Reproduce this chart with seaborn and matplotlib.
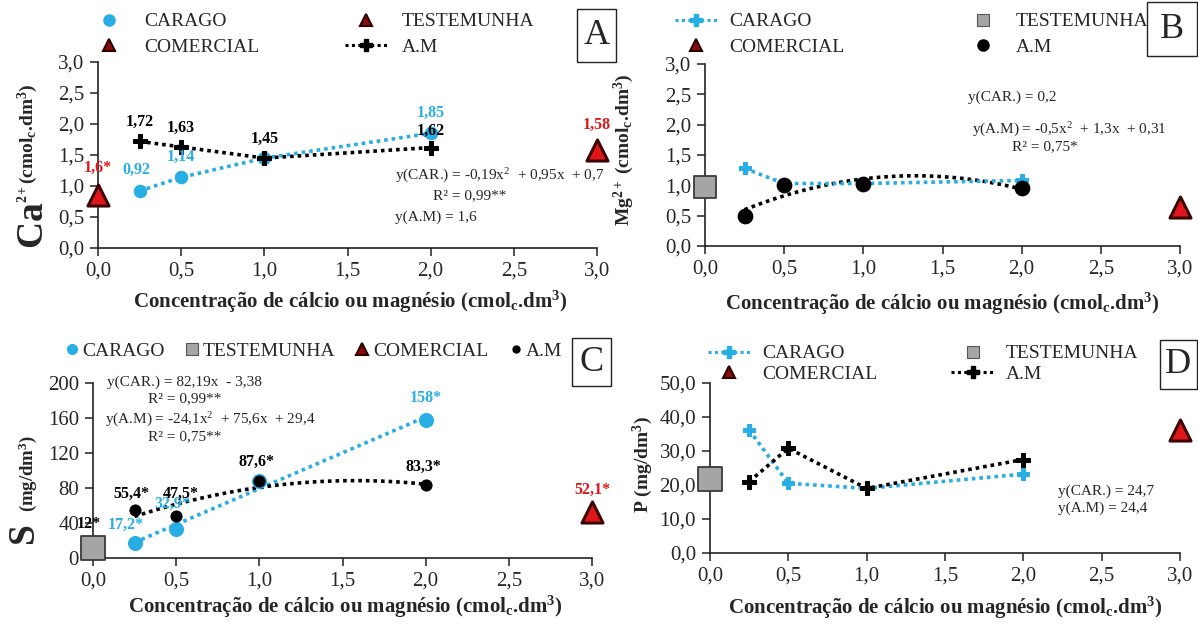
import numpy as np
import pandas as pd
import matplotlib
matplotlib.use("Agg")
import matplotlib.pyplot as plt
import seaborn as sns
from matplotlib.lines import Line2D

# ---------------- data ----------------
doses = [0.25, 0.5, 1.0, 2.0]
x_test = [0.0]
x_com = [3.0]

ca_carago = [0.92, 1.14, 1.45, 1.85]
ca_am = [1.72, 1.63, 1.45, 1.62]
ca_test = [0.85]
ca_com = [1.58]
ca_car_labels = ["0,92", "1,14", "", "1,85"]
ca_am_labels = ["1,72", "1,63", "1,45", "1,62"]
ca_test_label = "1,6*"
ca_com_label = "1,58"

mg_carago = [1.28, 1.03, 1.03, 1.08]
mg_am = [0.50, 1.00, 1.02, 0.95]
mg_test = [0.97]
mg_com = [0.65]

s_carago = [17.2, 32.9, 88.5, 158.0]
s_am = [55.4, 47.5, 87.6, 83.3]
s_test = [12.0]
s_com = [52.1]
s_car_labels = ["17,2*", "32,9*", "", "158*"]
s_am_labels = ["55,4*", "47,5*", "87,6*", "83,3*"]
s_test_label = "12*"
s_com_label = "52,1*"

p_carago = [36.2, 20.5, 19.0, 23.2]
p_am = [21.0, 30.8, 19.0, 27.5]
p_test = [21.8]
p_com = [36.3]

# ---------------- style ----------------
sns.set_style("white")
plt.rcParams["font.family"] = ["Liberation Serif", "DejaVu Serif"]
plt.rcParams["mathtext.fontset"] = "custom"
plt.rcParams["mathtext.rm"] = "Liberation Serif"
plt.rcParams["mathtext.it"] = "Liberation Serif:italic"
plt.rcParams["mathtext.bf"] = "Liberation Serif:bold"

CYAN = "#27aee4"
RED = "#e0161b"
DRED = "#3c0505"
GREY = "#a5a5a5"
DOT = (0, (1, 1.1))

W, H = 1198, 625
fig = plt.figure(figsize=(W / 100, H / 100), dpi=100)


def px(x, y):
    return x / W, 1 - y / H


def make_ax(l, t, r, b):
    x0, y0 = px(l, b)
    x1, y1 = px(r, t)
    return fig.add_axes([x0, y0, x1 - x0, y1 - y0])


def style_ax(ax, ymax, ystep, fmt):
    ax.set_xlim(0, 3)
    ax.set_ylim(0, ymax)
    ax.set_xticks(np.arange(0, 3.01, 0.5))
    ax.set_xticklabels([f"{v:.1f}".replace(".", ",") for v in np.arange(0, 3.01, 0.5)])
    yt = np.arange(0, ymax + 1e-9, ystep)
    ax.set_yticks(yt)
    ax.set_yticklabels([fmt(v) for v in yt])
    for s in ["top", "right"]:
        ax.spines[s].set_visible(False)
    for s in ["left", "bottom"]:
        ax.spines[s].set_color("#222222")
        ax.spines[s].set_linewidth(1.2)
    ax.tick_params(axis="both", direction="out", length=6, width=1.1,
                   color="#222222", labelsize=15, pad=4, left=True, bottom=True)
    ax.set_xlabel("")
    ax.set_ylabel("")
    ax.patch.set_alpha(0)


def tri(ax, x, y, s=230):
    sns.scatterplot(x=x, y=y, ax=ax, marker="^", s=s, color=RED,
                    edgecolor=DRED, linewidth=2.2, zorder=6, clip_on=False, legend=False)


def square(ax, x, y, s=260):
    sns.scatterplot(x=x, y=y, ax=ax, marker="s", s=s, color=GREY,
                    edgecolor="#3a3a3a", linewidth=1.3, zorder=6, clip_on=False, legend=False)


def connect(ax, x, y, color, marker, ms):
    sns.lineplot(x=x, y=y, ax=ax, color=color, linestyle=DOT, linewidth=2.6,
                 marker=marker, markersize=ms, markeredgecolor=color,
                 zorder=5, clip_on=False, legend=False, errorbar=None)


def label(ax, x, y, txt, color, dx=0, dy=15, size=11.5):
    if txt:
        ax.annotate(txt, (x, y), xytext=(dx, dy), textcoords="offset points",
                    ha="center", va="center", fontsize=size, fontweight="bold",
                    color=color, zorder=7)


def letter_box(l, t, r, b, txt):
    x0, y0 = px(l, b)
    x1, y1 = px(r, t)
    fig.patches.append(plt.Rectangle((x0, y0), x1 - x0, y1 - y0, transform=fig.transFigure,
                                     fill=False, edgecolor="#222222", linewidth=1.0))
    cx, cy = px((l + r) / 2, (t + b) / 2)
    fig.text(cx, cy, txt, ha="center", va="center", fontsize=26)


fmt1 = lambda v: f"{v:.1f}".replace(".", ",")
fmt0 = lambda v: f"{v:.0f}"
XLAB = r"Concentração de cálcio ou magnésio (cmol$_\mathbf{c}$.dm$^\mathbf{3}$)"
XFS = 15

tri_h = Line2D([], [], ls="none", marker="^", markersize=9, color="#8b0a0a",
               markeredgecolor="#2a0000", markeredgewidth=1.5)
sq_h = Line2D([], [], ls="none", marker="s", markersize=8, color=GREY,
              markeredgecolor="#555555", markeredgewidth=0.8)

# ---------------- Panel A ----------------
axA = make_ax(98, 62, 597, 248)
connect(axA, doses, ca_carago, CYAN, "o", 9)
connect(axA, doses, ca_am, "black", "P", 10)
tri(axA, x_test, ca_test)
tri(axA, x_com, ca_com)
style_ax(axA, 3.0, 0.5, fmt1)
for xv, yv, t in zip(doses, ca_carago, ca_car_labels):
    label(axA, xv, yv, t, CYAN, dx=-2 if xv < 0.3 else 0, dy=15)
for xv, yv, t in zip(doses, ca_am, ca_am_labels):
    label(axA, xv, yv, t, "black", dy=14 if xv < 1.5 else 12)
label(axA, x_test[0], ca_test[0], ca_test_label, RED, dy=20)
label(axA, x_com[0], ca_com[0], ca_com_label, RED, dy=18)
fig.text(*px(395, 176), r"y(CAR.) = -0,19x$^2$  + 0,95x  + 0,7", fontsize=11, va="center")
fig.text(*px(470, 196), r"R² = 0,99**", fontsize=11, va="center", ha="center")
fig.text(*px(395, 217), r"y(A.M) = 1,6", fontsize=11, va="center")
fig.text(*px(34, 249), r"$\mathbf{Ca}$", fontsize=27, rotation=90, ha="center", va="bottom")
fig.text(*px(28, 203), r"$^\mathbf{2+}$(cmol$_\mathbf{c}$.dm$^\mathbf{3}$)", fontsize=14,
         fontweight="bold", rotation=90, ha="center", va="bottom")
fig.text(*px(350, 302), XLAB, fontsize=XFS, fontweight="bold", ha="center", va="center")
hA = [Line2D([], [], ls="none", marker="o", markersize=8, color=CYAN),
      tri_h,
      tri_h,
      Line2D([], [], ls=DOT, lw=2.2, marker="P", markersize=9, color="black")]
fig.legend(hA, ["CARAGO", "COMERCIAL", "TESTEMUNHA", "A.M"], ncol=2,
           loc="upper left", bbox_to_anchor=px(80, 5), frameon=False, fontsize=14,
           handlelength=2.2, handletextpad=0.7, columnspacing=4.4, labelspacing=0.4,
           borderaxespad=0)
letter_box(577, 9, 616, 62, "A")

# ---------------- Panel B ----------------
axB = make_ax(705, 64, 1180, 246)
connect(axB, doses, mg_carago, CYAN, "P", 9)
sns.regplot(x=np.array(doses), y=np.array(mg_am), order=2, ci=None, scatter=False, ax=axB,
            color="black", line_kws=dict(ls=DOT, lw=2.6, zorder=4))
sns.scatterplot(x=doses, y=mg_am, ax=axB, color="black", s=110, edgecolor="black",
                zorder=6, legend=False, clip_on=False)
square(axB, x_test, mg_test)
tri(axB, x_com, mg_com)
style_ax(axB, 3.0, 0.5, fmt1)
fig.text(*px(968, 97), r"y(CAR.) = 0,2", fontsize=11, va="center")
fig.text(*px(972, 130), r"y(A.M) = -0,5x$^2$  + 1,3x  + 0,31", fontsize=11, va="center")
fig.text(*px(1045, 147), r"R² = 0,75*", fontsize=11, va="center", ha="center")
fig.text(*px(624, 150), r"Mg$^\mathbf{2+}$ (cmol$_\mathbf{c}$.dm$^\mathbf{3}$)", fontsize=14,
         fontweight="bold", rotation=90, ha="center", va="center")
fig.text(*px(942, 304), XLAB, fontsize=XFS, fontweight="bold", ha="center", va="center")
hB = [Line2D([], [], ls=DOT, lw=2.2, marker="P", markersize=8, color=CYAN),
      tri_h,
      sq_h,
      Line2D([], [], ls="none", marker="o", markersize=8, color="black")]
fig.legend(hB, ["CARAGO", "COMERCIAL", "TESTEMUNHA", "A.M"], ncol=2,
           loc="upper left", bbox_to_anchor=px(667, 5), frameon=False, fontsize=14,
           handlelength=2.2, handletextpad=0.6, columnspacing=6.0, labelspacing=0.4,
           borderaxespad=0)
letter_box(1147, 2, 1197, 56, "B")

# ---------------- Panel C ----------------
axC = make_ax(93, 383, 592, 558)
sns.regplot(x=np.array(doses), y=np.array(s_carago), order=1, ci=None, scatter=False, ax=axC,
            color=CYAN, line_kws=dict(ls=DOT, lw=2.6, zorder=4))
sns.regplot(x=np.array(doses), y=np.array(s_am), order=2, ci=None, scatter=False, ax=axC,
            color="black", line_kws=dict(ls=DOT, lw=2.6, zorder=4))
sns.scatterplot(x=doses, y=s_carago, ax=axC, color=CYAN, s=100, edgecolor=CYAN,
                zorder=5, legend=False, clip_on=False)
sns.scatterplot(x=doses, y=s_am, ax=axC, color="black", s=65, edgecolor="black",
                zorder=6, legend=False, clip_on=False)
square(axC, x_test, s_test, s=280)
tri(axC, x_com, s_com)
style_ax(axC, 200, 40, fmt0)
car_dx = [-6, -3, 0, 0]
car_dy = [13, 18, 14, 16]
for xv, yv, t, dx, dy in zip(doses, s_carago, s_car_labels, car_dx, car_dy):
    label(axC, xv, yv, t, CYAN, dx=dx, dy=dy)
am_dx = [-2, 3, -2, -2]
am_dy = [11, 16, 14, 13]
for xv, yv, t, dx, dy in zip(doses, s_am, s_am_labels, am_dx, am_dy):
    label(axC, xv, yv, t, "black", dx=dx, dy=dy)
label(axC, x_test[0], s_test[0], s_test_label, "black", dx=-3, dy=17)
label(axC, x_com[0], s_com[0], s_com_label, RED, dy=16)
fig.text(*px(107, 382), r"y(CAR.) = 82,19x  - 3,38", fontsize=11, va="center")
fig.text(*px(148, 399), r"R² = 0,99**", fontsize=11, va="center")
fig.text(*px(105, 420), r"y(A.M) = -24,1x$^2$  + 75,6x  + 29,4", fontsize=11, va="center")
fig.text(*px(148, 437), r"R² = 0,75**", fontsize=11, va="center")
fig.text(*px(26, 535), r"$\mathbf{S}$", fontsize=27, rotation=90, ha="center", va="center")
fig.text(*px(28, 512), r"(mg/dm$^\mathbf{3}$)", fontsize=13.5, fontweight="bold",
         rotation=90, ha="center", va="bottom")
fig.text(*px(345, 607), XLAB, fontsize=XFS, fontweight="bold", ha="center", va="center")
hC = [Line2D([], [], ls="none", marker="o", markersize=7, color=CYAN),
      sq_h, tri_h,
      Line2D([], [], ls="none", marker="o", markersize=5, color="black")]
fig.legend(hC, ["CARAGO", "TESTEMUNHA", "COMERCIAL", "A.M"], ncol=4,
           loc="center left", bbox_to_anchor=px(58, 351), frameon=False, fontsize=14,
           handlelength=0.6, handletextpad=0.25, columnspacing=1.1, borderaxespad=0)
letter_box(572, 338, 611, 386, "C")

# ---------------- Panel D ----------------
axD = make_ax(710, 383, 1180, 553)
connect(axD, doses, p_carago, CYAN, "P", 9)
connect(axD, doses, p_am, "black", "P", 10)
square(axD, x_test, p_test, s=300)
tri(axD, x_com, p_com)
style_ax(axD, 50, 10, fmt1)
fig.text(*px(1058, 491), "y(CAR.) = 24,7", fontsize=11, va="center")
fig.text(*px(1058, 508), "y(A.M) = 24,4", fontsize=11, va="center")
fig.text(*px(643, 465), r"P (mg/dm$^\mathbf{3}$)", fontsize=14, fontweight="bold",
         rotation=90, ha="center", va="center")
fig.text(*px(945, 608), XLAB, fontsize=XFS, fontweight="bold", ha="center", va="center")
hD = [Line2D([], [], ls=DOT, lw=2.2, marker="P", markersize=8, color=CYAN),
      tri_h,
      sq_h,
      Line2D([], [], ls=DOT, lw=2.2, marker="P", markersize=9, color="black")]
fig.legend(hD, ["CARAGO", "COMERCIAL", "TESTEMUNHA", "A.M"], ncol=2,
           loc="upper left", bbox_to_anchor=px(700, 337), frameon=False, fontsize=14,
           handlelength=2.2, handletextpad=0.6, columnspacing=3.8, labelspacing=0.15,
           borderaxespad=0)
letter_box(1160, 340, 1197, 389, "D")

fig.savefig("out.png", dpi=100)
